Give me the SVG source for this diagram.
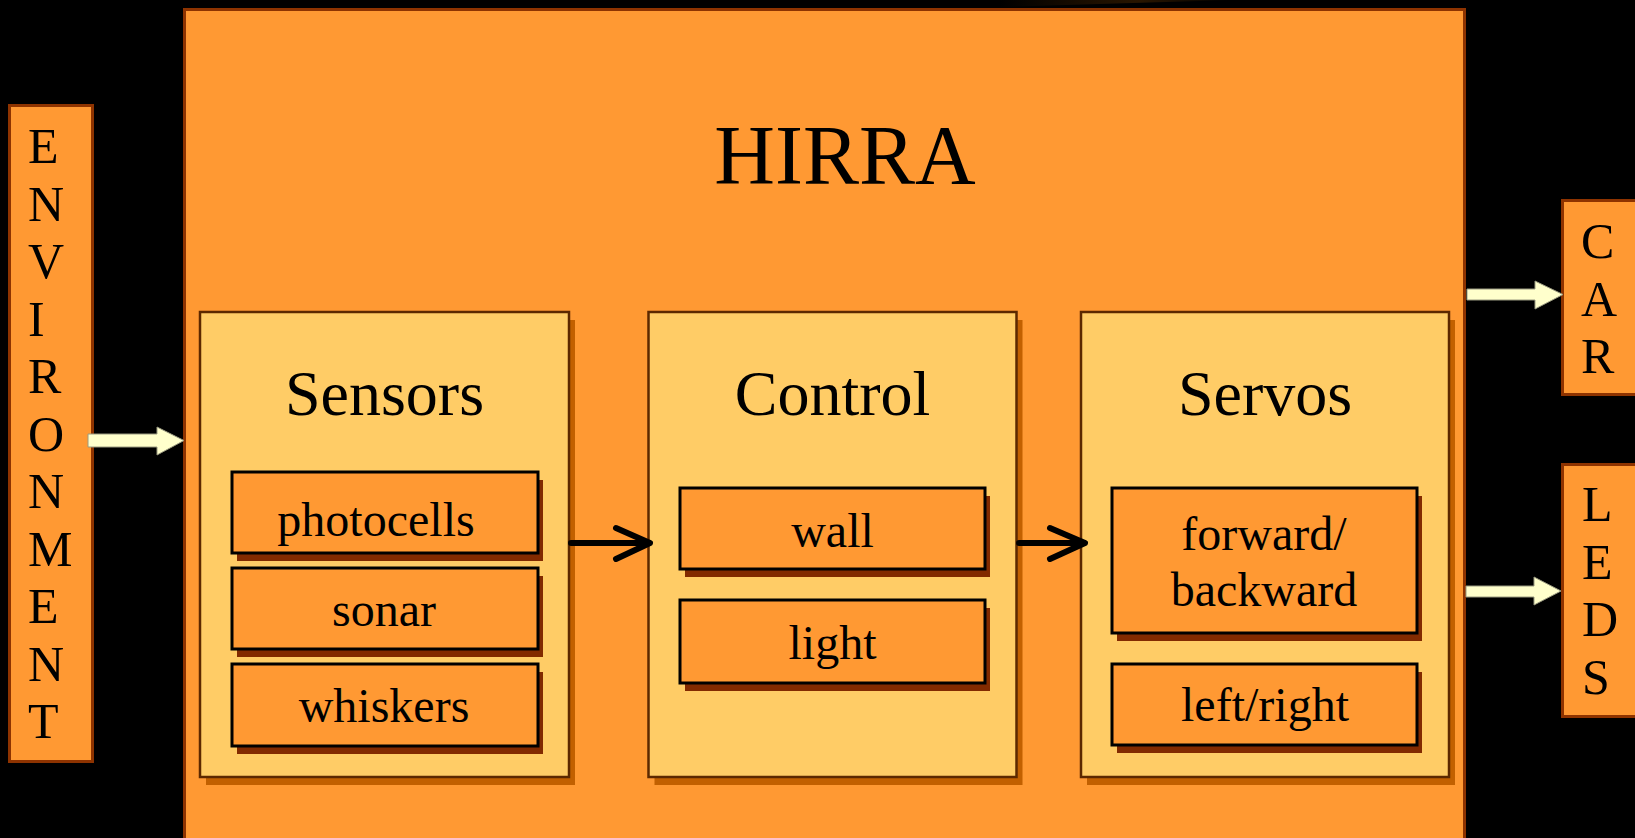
<svg xmlns="http://www.w3.org/2000/svg" width="1635" height="838" viewBox="0 0 1635 838">
  <defs>
    <linearGradient id="topGlow" x1="0" y1="0" x2="1" y2="0">
      <stop offset="0" stop-color="#000000"/>
      <stop offset="0.6" stop-color="#2a1600"/>
      <stop offset="1" stop-color="#000000"/>
    </linearGradient>
  </defs>
  <style>
    text { font-family: "Liberation Serif", "Times New Roman", serif; fill: #000; }
    .outer { fill: #FF9933; stroke: #8E3300; stroke-width: 3; }
    .panel { fill: #FFCC66; stroke: #5C2800; stroke-width: 2.5; }
    .panel-shadow { fill: #C26000; }
    .item { fill: #FF9933; stroke: #000; stroke-width: 3; }
    .item-shadow { fill: #822A00; }
    .big { font-size: 84px; text-anchor: middle; }
    .title { font-size: 64px; text-anchor: middle; }
    .label { font-size: 48px; text-anchor: middle; }
    .letters { font-size: 50px; }
    .flow { fill: #FFFFCC; stroke: #9A9A80; stroke-width: 1; }
    .chevron { fill: none; stroke: #000; stroke-width: 6; stroke-linecap: round; stroke-linejoin: round; }
  </style>

  <rect x="0" y="0" width="1635" height="838" fill="#000"/>
  <polygon points="1000,7 1233,0 1000,0" fill="url(#topGlow)"/>

  <!-- side boxes -->
  <g id="environment">
    <rect class="outer" x="9.5" y="105.5" width="83" height="656"/>
    <text class="letters" x="28" y="163">E</text>
    <text class="letters" x="28" y="220.5">N</text>
    <text class="letters" x="28" y="278">V</text>
    <text class="letters" x="28" y="335.5">I</text>
    <text class="letters" x="28" y="393">R</text>
    <text class="letters" x="28" y="450.5">O</text>
    <text class="letters" x="28" y="508">N</text>
    <text class="letters" x="28" y="565.5">M</text>
    <text class="letters" x="28" y="623">E</text>
    <text class="letters" x="28" y="680.5">N</text>
    <text class="letters" x="28" y="738">T</text>
  </g>

  <g id="car">
    <rect class="outer" x="1562.5" y="200.5" width="90" height="194"/>
    <text class="letters" x="1581" y="258">C</text>
    <text class="letters" x="1581" y="315.5">A</text>
    <text class="letters" x="1581" y="373">R</text>
  </g>

  <g id="leds">
    <rect class="outer" x="1562.5" y="464.5" width="90" height="252"/>
    <text class="letters" x="1582" y="521">L</text>
    <text class="letters" x="1582" y="578.5">E</text>
    <text class="letters" x="1582" y="636">D</text>
    <text class="letters" x="1582" y="694">S</text>
  </g>

  <!-- main system box -->
  <g id="hirra">
    <rect class="outer" x="184.5" y="9.5" width="1280" height="840"/>
    <text class="big" x="845" y="184">HIRRA</text>
  </g>

  <!-- Sensors panel -->
  <g id="sensors">
    <rect class="panel-shadow" x="206" y="320" width="369" height="465"/>
    <rect class="panel" x="200" y="312" width="369" height="465"/>
    <text class="title" x="384.5" y="415">Sensors</text>
  </g>
  <g id="photocells">
    <rect class="item-shadow" x="237" y="480" width="306" height="81"/>
    <rect class="item" x="232" y="472" width="306" height="81"/>
    <text class="label" x="376" y="536">photocells</text>
  </g>
  <g id="sonar">
    <rect class="item-shadow" x="237" y="576" width="306" height="81"/>
    <rect class="item" x="232" y="568" width="306" height="81"/>
    <text class="label" x="384" y="626">sonar</text>
  </g>
  <g id="whiskers">
    <rect class="item-shadow" x="237" y="672" width="306" height="82"/>
    <rect class="item" x="232" y="664" width="306" height="82"/>
    <text class="label" x="384" y="722">whiskers</text>
  </g>

  <!-- Control panel -->
  <g id="control">
    <rect class="panel-shadow" x="654.5" y="320" width="368" height="465"/>
    <rect class="panel" x="648.5" y="312" width="368" height="465"/>
    <text class="title" x="832.5" y="415">Control</text>
  </g>
  <g id="wall">
    <rect class="item-shadow" x="685" y="496" width="305" height="81"/>
    <rect class="item" x="680" y="488" width="305" height="81"/>
    <text class="label" x="832.5" y="547">wall</text>
  </g>
  <g id="light">
    <rect class="item-shadow" x="685" y="608" width="305" height="83"/>
    <rect class="item" x="680" y="600" width="305" height="83"/>
    <text class="label" x="832.5" y="659">light</text>
  </g>

  <!-- Servos panel -->
  <g id="servos">
    <rect class="panel-shadow" x="1087" y="320" width="368" height="465"/>
    <rect class="panel" x="1081" y="312" width="368" height="465"/>
    <text class="title" x="1265" y="415">Servos</text>
  </g>
  <g id="forward-backward">
    <rect class="item-shadow" x="1117" y="496" width="305" height="145"/>
    <rect class="item" x="1112" y="488" width="305" height="145"/>
    <text class="label" x="1264" y="550">forward/</text>
    <text class="label" x="1264" y="606">backward</text>
  </g>
  <g id="left-right">
    <rect class="item-shadow" x="1117" y="672" width="305" height="81"/>
    <rect class="item" x="1112" y="664" width="305" height="81"/>
    <text class="label" x="1265" y="721">left/right</text>
  </g>

  <!-- connectors -->
  <g id="connectors">
    <polygon class="flow" points="88,434 157,434 157,427 184,440.5 157,455 157,447 88,447"/>
    <polygon class="flow" points="1467,289 1535,289 1535,281 1563,294.5 1535,309 1535,300 1467,300"/>
    <polygon class="flow" points="1466,586 1534,586 1534,577 1561,591 1534,605 1534,597 1466,597"/>

    <line class="chevron" x1="571" y1="543" x2="648" y2="543"/>
    <polyline class="chevron" points="616,528 650,543 616,559"/>

    <line class="chevron" x1="1019" y1="543" x2="1083" y2="543"/>
    <polyline class="chevron" points="1050,528 1085,543 1050,559"/>
  </g>
</svg>
